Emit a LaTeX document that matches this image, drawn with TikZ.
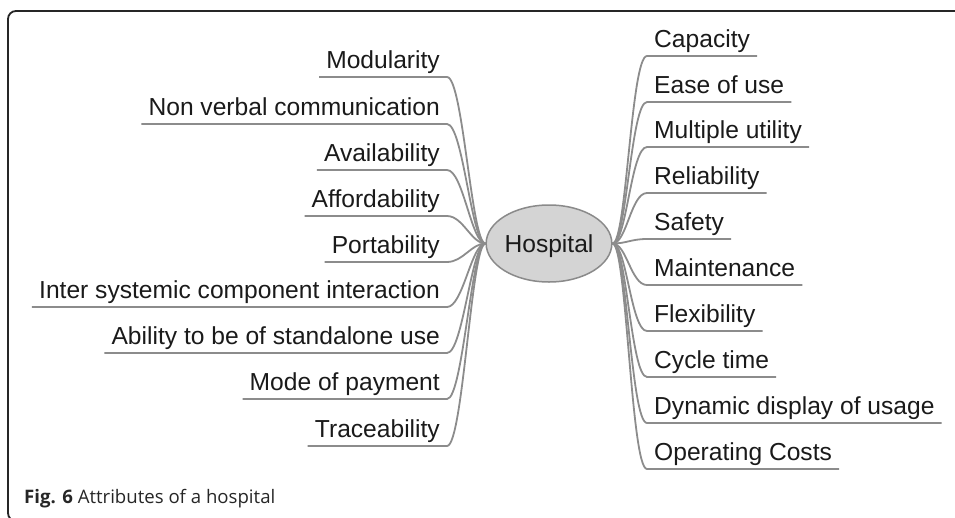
\documentclass[tikz,border=0pt]{standalone}
\usepackage{fontspec}
\setmainfont{Liberation Sans}
\newfontfamily\capfont{Open Sans}
\usetikzlibrary{shapes.geometric}

\definecolor{linegray}{HTML}{8C8C8C}
\definecolor{hubfill}{HTML}{D4D4D4}
\definecolor{hubline}{HTML}{8A8A8A}
\definecolor{textgray}{HTML}{1A1A1A}

\begin{document}
\begin{tikzpicture}[x=1pt,y=-1pt,
		attr/.style={font=\fontsize{24.6}{28}\selectfont, text=textgray, text height=17.6pt, text depth=0pt, inner xsep=7pt, inner ysep=8.3pt},
		attrL/.style={attr, anchor=south east},
		attrR/.style={attr, anchor=south west},
		branch/.style={draw=linegray, line width=1.8pt},
		hub/.style={ellipse, draw=hubline, fill=hubfill, line width=1.5pt, minimum width=122pt, minimum height=77pt, inner sep=0pt, text height=17.6pt, text depth=0pt, font=\fontsize{24.6}{28}\selectfont, text=textgray}]
		
		\useasboundingbox (0,0) rectangle (955,517);
		
		% frame
		\begin{scope}
			\clip (0,0) rectangle (955,517);
			\draw[line width=1.8pt, black!85, rounded corners=8pt] (975,521) -| (8,11) -- (975,11);
		\end{scope}
		
		
		\node[hub] (hosp) at (549,243.5) {Hospital};
		
		
		% left side
		\node[attrL] (mod) at (447,77) {Modularity};
		\node[attrL] (nvc) at (447,124) {Non verbal communication};
		\node[attrL] (avail) at (447,170) {Availability};
		\node[attrL] (afford) at (447,216) {Affordability};
		\node[attrL] (port) at (447,262) {Portability};
		\node[attrL] (inter) at (447,307) {Inter systemic component interaction};
		\node[attrL] (alone) at (447,353) {Ability to be of standalone use};
		\node[attrL] (pay) at (447,399) {Mode of payment};
		\node[attrL] (trace) at (447,446) {Traceability};
		
		
		% right side
		\node[attrR] (cap) at (647,56) {Capacity};
		\node[attrR] (ease) at (647,102) {Ease of use};
		\node[attrR] (multi) at (647,147) {Multiple utility};
		\node[attrR] (rel) at (647,193) {Reliability};
		\node[attrR] (safe) at (647,239) {Safety};
		\node[attrR] (maint) at (647,285) {Maintenance};
		\node[attrR] (flex) at (647,331) {Flexibility};
		\node[attrR] (cycle) at (647,377) {Cycle time};
		\node[attrR] (dyn) at (647,423) {Dynamic display of usage};
		\node[attrR] (cost) at (647,469) {Operating Costs};
		
		
		\draw[branch] (hosp.west) .. controls +(-14,0) and +(16,0) .. (mod.south east) -- (mod.south west);
		\draw[branch] (hosp.west) .. controls +(-14,0) and +(16,0) .. (nvc.south east) -- (nvc.south west);
		\draw[branch] (hosp.west) .. controls +(-14,0) and +(16,0) .. (avail.south east) -- (avail.south west);
		\draw[branch] (hosp.west) .. controls +(-14,0) and +(16,0) .. (afford.south east) -- (afford.south west);
		\draw[branch] (hosp.west) .. controls +(-14,0) and +(16,0) .. (port.south east) -- (port.south west);
		\draw[branch] (hosp.west) .. controls +(-14,0) and +(16,0) .. (inter.south east) -- (inter.south west);
		\draw[branch] (hosp.west) .. controls +(-14,0) and +(16,0) .. (alone.south east) -- (alone.south west);
		\draw[branch] (hosp.west) .. controls +(-14,0) and +(16,0) .. (pay.south east) -- (pay.south west);
		\draw[branch] (hosp.west) .. controls +(-14,0) and +(16,0) .. (trace.south east) -- (trace.south west);
		
		\draw[branch] (hosp.east) .. controls +(14,0) and +(-16,0) .. (cap.south west) -- (cap.south east);
		\draw[branch] (hosp.east) .. controls +(14,0) and +(-16,0) .. (ease.south west) -- (ease.south east);
		\draw[branch] (hosp.east) .. controls +(14,0) and +(-16,0) .. (multi.south west) -- (multi.south east);
		\draw[branch] (hosp.east) .. controls +(14,0) and +(-16,0) .. (rel.south west) -- (rel.south east);
		\draw[branch] (hosp.east) .. controls +(14,0) and +(-16,0) .. (safe.south west) -- (safe.south east);
		\draw[branch] (hosp.east) .. controls +(14,0) and +(-16,0) .. (maint.south west) -- (maint.south east);
		\draw[branch] (hosp.east) .. controls +(14,0) and +(-16,0) .. (flex.south west) -- (flex.south east);
		\draw[branch] (hosp.east) .. controls +(14,0) and +(-16,0) .. (cycle.south west) -- (cycle.south east);
		\draw[branch] (hosp.east) .. controls +(14,0) and +(-16,0) .. (dyn.south west) -- (dyn.south east);
		\draw[branch] (hosp.east) .. controls +(14,0) and +(-16,0) .. (cost.south west) -- (cost.south east);
		
		
		% caption
		\node[anchor=base west, inner sep=0pt, text=black!85, font=\capfont\fontsize{18.6}{22}\selectfont] (caption) at (24,503) {\textbf{Fig. 6} Attributes of a hospital};
		
		
	\end{tikzpicture}
\end{document}
